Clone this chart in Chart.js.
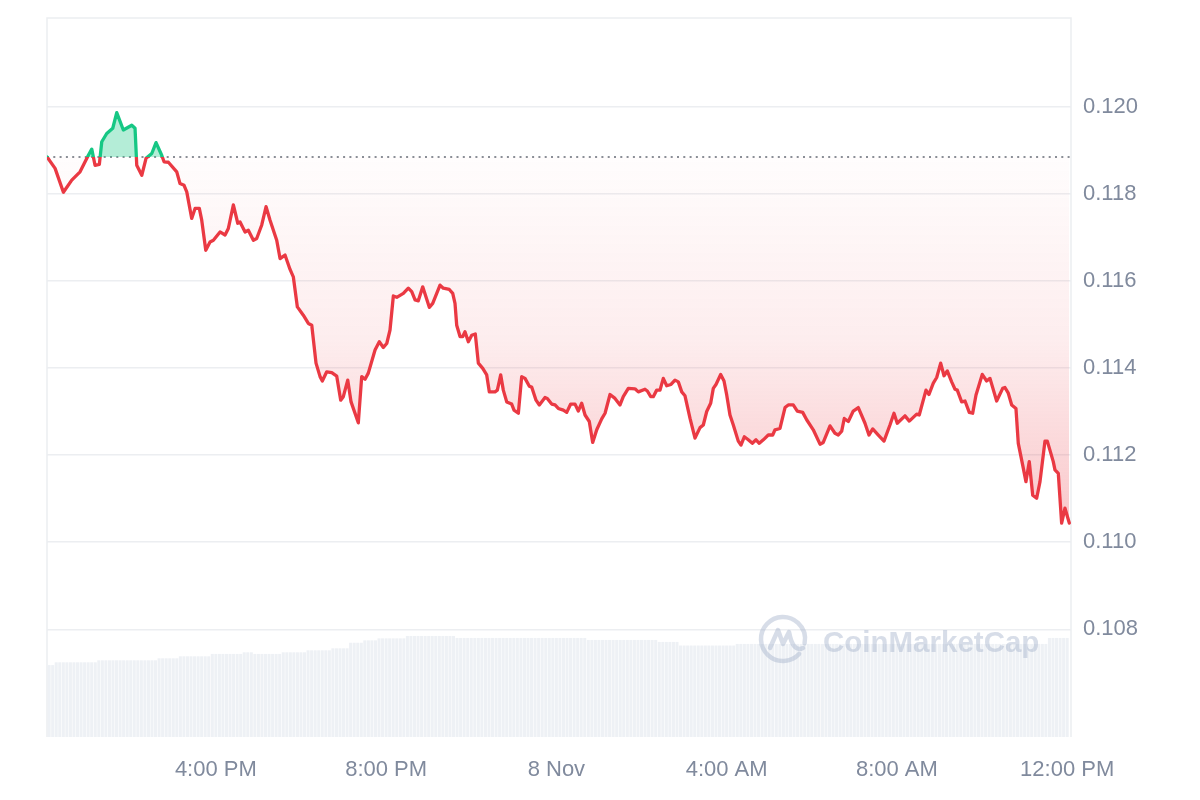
<!DOCTYPE html>
<html><head><meta charset="utf-8">
<script src="https://cdn.jsdelivr.net/npm/chart.js@4.4.1/dist/chart.umd.min.js"></script>
<style>html,body{margin:0;padding:0;background:#fff;}#wrap{width:1200px;height:800px;}</style>
</head><body><div id="wrap"><canvas id="c" width="1200" height="800"></canvas></div>
<script>
// Minutes since 12:00 PM, 7 Nov
const BASELINE = 0.11884;
const TIMES = [2.1,13.4,25.1,36.9,48.6,60.3,65.1,69.7,75.8,79.2,86.2,94.7,100.3,109.6,121.5,126.1,128.5,135.6,141.6,149.7,
155.7,163.7,167.0,173.1,184.9,189.5,195.2,199.0,206.0,210.7,216.7,220.1,225.8,231.8,236.5,245.9,253.0,257.6,264.7,270.9,
274.1,281.2,285.8,292.9,297.6,304.7,310.8,316.4,325.8,330.5,337.5,344.6,349.2,354.9,363.3,370.4,375.2,381.2,386.9,390.1,
396.3,403.4,410.4,416.0,419.7,425.9,430.6,440.8,445.6,450.3,454.9,464.4,470.4,476.1,480.9,485.5,490.2,495.0,504.3,511.3,
516.1,520.8,525.4,531.6,540.9,545.7,556.0,560.6,569.1,573.9,577.1,579.5,584.2,588.0,591.2,595.9,600.7,605.7,610.0,616.2,
621.8,625.5,633.5,636.8,641.5,645.2,650.0,657.0,660.3,666.4,671.1,675.8,681.9,685.2,691.3,696.0,704.0,707.2,713.4,718.1,
722.7,729.8,734.6,740.2,746.3,750.9,755.7,760.4,766.4,771.2,776.9,783.9,788.6,795.6,802.6,809.7,814.3,821.4,830.8,835.5,
844.9,848.2,853.0,856.6,861.4,866.1,870.7,875.5,881.6,887.2,891.9,896.7,901.3,908.4,915.4,922.5,927.1,931.9,937.5,941.2,
945.0,951.6,956.3,960.1,964.7,969.4,976.4,980.2,984.9,990.5,996.2,1001.4,1006.0,1011.7,1018.7,1024.9,1028.2,1035.2,1042.3,1046.9,
1053.9,1059.6,1067.2,1072.8,1082.1,1091.6,1096.2,1105.7,1112.7,1117.4,1122.2,1125.8,1131.5,1138.5,1145.6,1155.0,1160.6,1165.9,1173.8,1181.8,
1190.2,1195.9,1200.5,1211.4,1217.5,1227.9,1231.5,1241.0,1245.2,1251.3,1256.1,1261.7,1266.4,1271.0,1277.2,1281.9,1285.1,1291.3,1296.0,1302.0,
1306.8,1311.5,1320.3,1326.5,1331.2,1340.6,1349.1,1352.3,1357.0,1361.8,1367.8,1371.1,1377.3,1381.9,1386.6,1391.4,1397.0,1401.7,1408.7,1412.0,
1420.4,1422.8,1427.5,1432.2,1436.9,1443.0];
const PRICES = [0.11884,0.11858,0.11803,0.11831,0.11850,0.11888,0.11902,0.11865,0.11867,0.11919,0.11938,0.11950,0.11986,0.11946,0.11957,0.11950,0.11865,0.11842,0.11881,0.11892,
0.11917,0.11888,0.11873,0.11872,0.11850,0.11823,0.11819,0.11804,0.11743,0.11766,0.11766,0.11739,0.11670,0.11689,0.11693,0.11712,0.11705,0.11720,0.11774,0.11732,
0.11735,0.11712,0.11716,0.11693,0.11697,0.11728,0.11770,0.11739,0.11693,0.11651,0.11659,0.11626,0.11609,0.11540,0.11521,0.11502,0.11498,0.11411,0.11380,0.11370,
0.11391,0.11389,0.11381,0.11326,0.11334,0.11372,0.11322,0.11274,0.11380,0.11374,0.11388,0.11441,0.11460,0.11447,0.11456,0.11487,0.11565,0.11562,0.11571,0.11583,
0.11575,0.11556,0.11554,0.11586,0.11539,0.11548,0.11590,0.11583,0.11580,0.11571,0.11548,0.11498,0.11472,0.11472,0.11483,0.11460,0.11475,0.11478,0.11411,0.11399,
0.11384,0.11345,0.11345,0.11349,0.11384,0.11349,0.11322,0.11317,0.11303,0.11296,0.11380,0.11376,0.11358,0.11356,0.11326,0.11315,0.11332,0.11330,0.11317,0.11315,
0.11307,0.11303,0.11298,0.11317,0.11317,0.11301,0.11319,0.11292,0.11277,0.11229,0.11258,0.11283,0.11296,0.11339,0.11330,0.11315,0.11334,0.11353,0.11352,0.11345,
0.11351,0.11347,0.11334,0.11334,0.11349,0.11349,0.11376,0.11359,0.11362,0.11372,0.11368,0.11345,0.11336,0.11284,0.11239,0.11263,0.11269,0.11300,0.11319,0.11353,
0.11362,0.11385,0.11370,0.11338,0.11292,0.11269,0.11232,0.11223,0.11242,0.11235,0.11227,0.11235,0.11227,0.11235,0.11246,0.11246,0.11258,0.11261,0.11309,0.11315,
0.11315,0.11301,0.11298,0.11281,0.11258,0.11225,0.11229,0.11267,0.11250,0.11246,0.11255,0.11284,0.11277,0.11301,0.11309,0.11273,0.11246,0.11260,0.11246,0.11232,
0.11269,0.11296,0.11273,0.11290,0.11278,0.11294,0.11292,0.11349,0.11339,0.11365,0.11378,0.11411,0.11382,0.11393,0.11368,0.11351,0.11349,0.11322,0.11324,0.11298,
0.11296,0.11338,0.11385,0.11370,0.11376,0.11324,0.11353,0.11355,0.11342,0.11315,0.11307,0.11227,0.11177,0.11139,0.11185,0.11108,0.11101,0.11139,0.11232,0.11232,
0.11185,0.11166,0.11158,0.11044,0.11078,0.11044];

// 5-minute volume bars (millions)
const VOL_START = 5, VOL_STEP = 5;
const VOLUME = [
18.0,18.0,
18.7,18.7,18.7,18.7,18.7,18.7,18.7,18.7,18.7,18.7,18.7,18.7,
19.2,19.2,19.2,19.2,19.2,19.2,19.2,19.2,19.2,19.2,19.2,19.2,19.2,19.2,19.2,19.2,19.2,
19.7,19.7,19.7,19.7,19.7,19.7,
20.2,20.2,20.2,20.2,20.2,20.2,20.2,20.2,20.2,
20.8,20.8,20.8,20.8,20.8,20.8,20.8,20.8,20.8,
21.2,21.2,21.2,
20.8,20.8,20.8,20.8,20.8,20.8,20.8,20.8,
21.2,21.2,21.2,21.2,21.2,21.2,21.2,
21.7,21.7,21.7,21.7,21.7,21.7,21.7,
22.2,22.2,22.2,22.2,22.2,
23.6,23.6,23.6,23.6,
24.2,24.2,24.2,24.2,
24.7,24.7,24.7,24.7,24.7,24.7,24.7,24.7,
25.3,25.3,25.3,25.3,25.3,25.3,25.3,25.3,25.3,25.3,25.3,25.3,25.3,25.3,
24.8,24.8,24.8,24.8,24.8,24.8,24.8,24.8,24.8,24.8,24.8,24.8,24.8,24.8,24.8,24.8,24.8,24.8,24.8,24.8,
24.8,24.8,24.8,24.8,24.8,24.8,24.8,24.8,24.8,24.8,24.8,24.8,24.8,24.8,24.8,24.8,24.8,
24.3,24.3,24.3,24.3,24.3,24.3,24.3,24.3,24.3,24.3,24.3,24.3,24.3,24.3,24.3,24.3,24.3,24.3,24.3,24.3,
23.8,23.8,23.8,23.8,23.8,23.8,
22.9,22.9,22.9,22.9,22.9,22.9,22.9,22.9,22.9,22.9,22.9,22.9,22.9,22.9,22.9,22.9,
23.3,23.3,23.3,23.3,23.3,23.3,23.3,23.3,23.3,23.3,23.3,
23.3,23.3,23.3,23.3,23.3,23.3,23.3,23.3,23.3,23.3,23.3,
23.3,23.3,23.3,23.3,23.3,23.3,23.3,23.3,23.3,23.3,23.3,
23.3,23.3,23.3,23.3,23.3,23.3,23.3,23.3,23.3,23.3,23.3,
23.3,23.3,23.3,23.3,23.3,23.3,23.3,23.3,23.3,23.3,23.3,
23.3,23.3,23.3,23.3,23.3,23.3,23.3,23.3,23.3,23.3,23.3,
23.3,23.3,23.3,23.3,23.3,23.3,23.3,23.3,23.3,23.3,23.3,
23.3,23.3,23.3,23.3,23.3,23.3,23.3,23.3,23.3,23.3,23.3,
24.8,24.8,24.8,24.8,24.8,24.8
];

const TICK_MINUTES = [240, 480, 720, 960, 1200, 1440];
const TICK_LABELS = ['4:00 PM', '8:00 PM', '8 Nov', '4:00 AM', '8:00 AM', '12:00 PM'];
const Y_TICKS = [0.108, 0.110, 0.112, 0.114, 0.116, 0.118, 0.120];
const X_MIN = 2, X_MAX = 1445.4, Y_MIN = 0.10553, Y_MAX = 0.12203, VOL_MAX = 180;

const GREEN = '#16c784', RED = '#ea3943';
const FONT = "'Liberation Sans', Arial, Helvetica, sans-serif";
const LABEL_COLOR = '#808a9d';
const GRID_COLOR = '#eceef1';

const priceData = TIMES.map((t, i) => ({x: t, y: PRICES[i]}));
const volData = VOLUME.map((v, i) => ({x: VOL_START + i * VOL_STEP, y: v}));
const baseData = [{x: X_MIN, y: BASELINE}, {x: X_MAX, y: BASELINE}];

function lineGradient(chart) {
  const a = chart.chartArea, ys = chart.scales.y;
  if (!a || !ys) return RED;
  const yb = ys.getPixelForValue(BASELINE);
  const g = chart.ctx.createLinearGradient(0, a.top, 0, a.bottom);
  const f = Math.min(1, Math.max(0, (yb - a.top) / (a.bottom - a.top)));
  g.addColorStop(0, GREEN); g.addColorStop(f, GREEN);
  g.addColorStop(f, RED); g.addColorStop(1, RED);
  return g;
}
function redFill(chart) {
  const a = chart.chartArea, ys = chart.scales.y;
  if (!a || !ys) return 'rgba(234,57,67,0.1)';
  const yb = ys.getPixelForValue(BASELINE);
  const ym = ys.getPixelForValue(Math.min(...PRICES));
  const g = chart.ctx.createLinearGradient(0, yb, 0, ym);
  g.addColorStop(0, 'rgba(234,57,67,0.01)');
  g.addColorStop(0.5, 'rgba(234,57,67,0.09)');
  g.addColorStop(1, 'rgba(234,57,67,0.28)');
  return g;
}

const framePlugin = {
  id: 'frame',
  beforeDatasetsDraw(chart) {
    const {ctx, chartArea: a} = chart;
    ctx.save();
    ctx.strokeStyle = GRID_COLOR; ctx.lineWidth = 1.5;
    ctx.beginPath();
    ctx.moveTo(a.left, a.bottom); ctx.lineTo(a.left, a.top);
    ctx.lineTo(a.right, a.top); ctx.lineTo(a.right, a.bottom);
    ctx.stroke();
    ctx.restore();
  }
};

const watermarkPlugin = {
  id: 'watermark',
  afterDatasetsDraw(chart) {
    const {ctx, chartArea: a} = chart;
    const cx = a.right - 288, cy = a.bottom - 98, r = 22;
    ctx.save();
    const col = 'rgba(160,175,200,0.42)';
    ctx.strokeStyle = col; ctx.lineWidth = 4.5; ctx.lineCap = 'round'; ctx.lineJoin = 'round';
    ctx.beginPath();
    ctx.arc(cx, cy, r, 0.75, 0.75 + Math.PI * 2 - 0.55);
    ctx.stroke();
    ctx.beginPath();
    ctx.moveTo(cx - 13, cy + 9);
    ctx.lineTo(cx - 5, cy - 9);
    ctx.lineTo(cx + 0, cy + 5);
    ctx.lineTo(cx + 6, cy - 7);
    ctx.quadraticCurveTo(cx + 10, cy + 14, cx + 20, cy + 9);
    ctx.stroke();
    ctx.fillStyle = col;
    ctx.font = "bold 29.5px " + FONT;
    ctx.textBaseline = 'alphabetic';
    ctx.fillText('CoinMarketCap', cx + 40, cy + 13);
    ctx.restore();
  }
};

new Chart(document.getElementById('c'), {
  type: 'line',
  data: {
    datasets: [
      {
        label: 'Price', data: priceData, order: 0, yAxisID: 'y', xAxisID: 'x',
        borderColor: (ctx) => lineGradient(ctx.chart),
        borderWidth: 3.3, pointRadius: 0, tension: 0,
        borderJoinStyle: 'round', borderCapStyle: 'round',
        fill: (ctx) => ({target: {value: BASELINE}, above: 'rgba(22,199,132,0.32)', below: redFill(ctx.chart)})
      },
      {
        label: 'Open', data: baseData, order: 1, yAxisID: 'y', xAxisID: 'x',
        borderColor: '#8a8f97', borderWidth: 2, borderDash: [2, 4.3],
        pointRadius: 0, fill: false
      },
      {
        type: 'bar', label: 'Volume', data: volData, order: 2, yAxisID: 'y2', xAxisID: 'x',
        backgroundColor: '#eef1f5', borderWidth: 0,
        categoryPercentage: 1, barPercentage: 0.85
      }
    ]
  },
  options: {
    responsive: false, animation: false, devicePixelRatio: 1,
    layout: {padding: {left: 47, top: 18, right: 0, bottom: 0}},
    plugins: {legend: {display: false}, tooltip: {enabled: false}},
    scales: {
      x: {
        type: 'linear', min: X_MIN, max: X_MAX, offset: false,
        grid: {display: false, offset: false}, border: {display: false},
        afterBuildTicks: (s) => { s.ticks = TICK_MINUTES.map(v => ({value: v})); },
        afterFit: (s) => { s.height = 63; s.paddingLeft = 0; s.paddingRight = 0; },
        ticks: {
          autoSkip: false, maxRotation: 0, padding: 12, color: LABEL_COLOR,
          font: {family: FONT, size: 22},
          callback: (v) => TICK_LABELS[TICK_MINUTES.indexOf(v)]
        }
      },
      y: {
        type: 'linear', position: 'right', min: Y_MIN, max: Y_MAX,
        grid: {color: GRID_COLOR, lineWidth: 1.5, drawTicks: false}, border: {display: false},
        afterBuildTicks: (s) => { s.ticks = Y_TICKS.map(v => ({value: v})); },
        afterFit: (s) => { s.width = 129; s.paddingTop = 0; s.paddingBottom = 0; },
        ticks: {
          padding: 12, color: LABEL_COLOR, font: {family: FONT, size: 22},
          callback: (v) => Number(v).toFixed(3)
        }
      },
      y2: {type: 'linear', display: false, min: 0, max: VOL_MAX}
    }
  },
  plugins: [framePlugin, watermarkPlugin]
});
</script>
</body></html>
